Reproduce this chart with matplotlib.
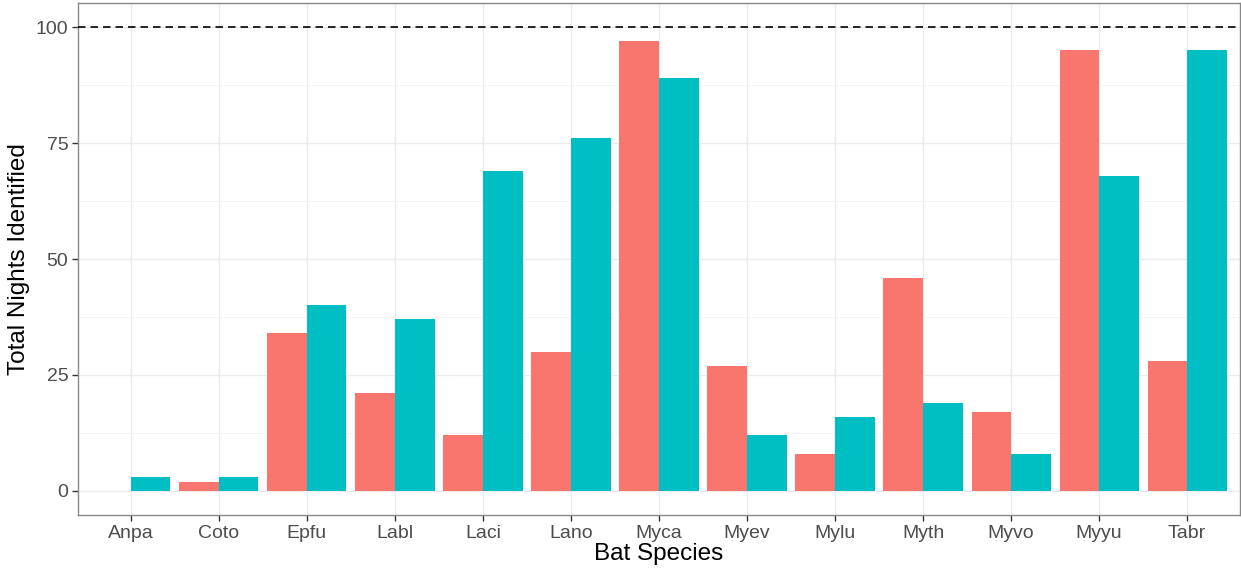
import numpy as np
import matplotlib.pyplot as plt
from matplotlib.ticker import MultipleLocator

plt.rcParams['font.family'] = ['Liberation Sans', 'DejaVu Sans']

# --- DATA ---
species = ["Anpa", "Coto", "Epfu", "Labl", "Laci", "Lano", "Myca",
           "Myev", "Mylu", "Myth", "Myvo", "Myyu", "Tabr"]
group_a = [0, 2, 34, 21, 12, 30, 97, 27, 8, 46, 17, 95, 28]
group_b = [3, 3, 40, 37, 69, 76, 89, 12, 16, 19, 8, 68, 95]

# --- FIGURE ---
fig = plt.figure(figsize=(12.41, 5.71), dpi=100)
ax = fig.add_axes([78 / 1241, 56 / 571, 1162 / 1241, 512 / 571])

x = np.arange(len(species))
w = 0.45
ax.bar(x - w / 2, group_a, width=w, color="#F8766D", zorder=3)
ax.bar(x + w / 2, group_b, width=w, color="#00BFC4", zorder=3)
ax.axhline(100, color="black", linestyle=(0, (4.5, 3)), linewidth=1.2, zorder=4)

ax.set_xlim(-0.6, len(species) - 0.4)
ax.set_ylim(-5.2, 105.2)
ax.set_xticks(x)
ax.set_xticklabels(species)
ax.yaxis.set_major_locator(MultipleLocator(25))
ax.yaxis.set_minor_locator(MultipleLocator(12.5))
ax.set_yticks(np.arange(0, 101, 25))

# theme_bw look
ax.grid(which="major", color="#EBEBEB", linewidth=1, zorder=0)
ax.grid(which="minor", axis="y", color="#F4F4F4", linewidth=0.6, zorder=0)
ax.set_axisbelow(True)
for s in ax.spines.values():
    s.set_color("#888888")
    s.set_linewidth(1)
ax.tick_params(which="major", length=4, color="#333333", labelsize=14,
               labelcolor="#4D4D4D", width=1, pad=3)
ax.tick_params(which="minor", length=0)

ax.set_xlabel("Bat Species", fontsize=17.5, labelpad=1)
ax.set_ylabel("Total Nights Identified", fontsize=17.5, labelpad=4)

fig.savefig("out.png", dpi=100)
